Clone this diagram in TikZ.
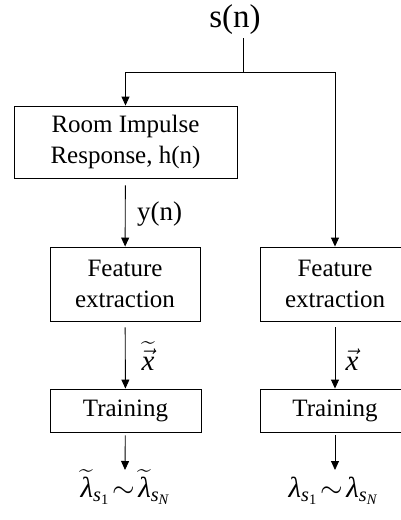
\RequirePackage{fix-cm}
\documentclass[tikz,border=0pt]{standalone}
\usepackage{amsmath}
\usepackage{fontspec}
\setmainfont{Liberation Serif}
\usetikzlibrary{arrows.meta}
\newcommand\itx[1]{\text{\itshape #1}}
\begin{document}
\begin{tikzpicture}[x=1pt,y=-1pt,
  box/.style={draw,line width=0.9pt,inner sep=0pt,align=center,font=\fontsize{25}{31.5}\selectfont},
  conn/.style={line width=0.9pt},
  arr/.style={conn,-{Triangle[length=9pt,width=8pt]}},
  lbl/.style={inner sep=0pt,font=\fontsize{27}{32}\selectfont},
  mlbl/.style={inner sep=0pt,font=\fontsize{29}{34}\selectfont}]
\useasboundingbox (0,0) rectangle (400,520);
\node[lbl,font=\fontsize{33}{38}\selectfont,anchor=base] (sn) at (235,27) {s(n)};
\coordinate (top) at (243,38);
\coordinate (j) at (243,72);
\node[box,minimum width=223pt,minimum height=72pt] (rir) at (125.5,142) {Room Impulse\\Response, h(n)};
\node[box,minimum width=150pt,minimum height=74pt] (fe1) at (125,284) {Feature\\extraction};
\node[box,minimum width=150pt,minimum height=74pt] (fe2) at (335,284) {Feature\\extraction};
\node[box,minimum width=151pt,minimum height=43pt] (tr1) at (125.5,410.5) {Training};
\node[box,minimum width=150pt,minimum height=43pt] (tr2) at (335,410.5) {Training};
\coordinate (e1) at (125,470);
\coordinate (e2) at (335,470);
\node[lbl,anchor=base west] (yn) at (137,220) {y(n)};
\node[mlbl,anchor=base] (x1) at (148,370) {$\widetilde{\vec{\itx{x}}}$};
\node[mlbl,anchor=base] (x2) at (352,370) {$\vec{\itx{x}}$};
\node[mlbl,anchor=base] (l1) at (125,497) {$\widetilde{\itx{λ}}_{\itx{s}_{\text{1}}}\mkern2mu{\sim}\mkern2mu\widetilde{\itx{λ}}_{\itx{s}_{\itx{N}}}$};
\node[mlbl,anchor=base] (l2) at (333,497) {$\itx{λ}_{\itx{s}_{\text{1}}}\mkern2mu{\sim}\mkern2mu\itx{λ}_{\itx{s}_{\itx{N}}}$};
\draw[conn] (top) -- (j);
\draw[arr] (j) -| (rir.north);
\draw[arr] (j) -| (fe2.north);
\draw[arr,shorten <=7pt] (rir) -- (fe1);
\draw[arr,shorten <=6pt] (fe1) -- (tr1);
\draw[arr,shorten <=6pt] (fe2) -- (tr2);
\draw[arr,shorten <=3pt] (tr1) -- (e1);
\draw[arr,shorten <=3pt] (tr2) -- (e2);
\end{tikzpicture}
\end{document}
